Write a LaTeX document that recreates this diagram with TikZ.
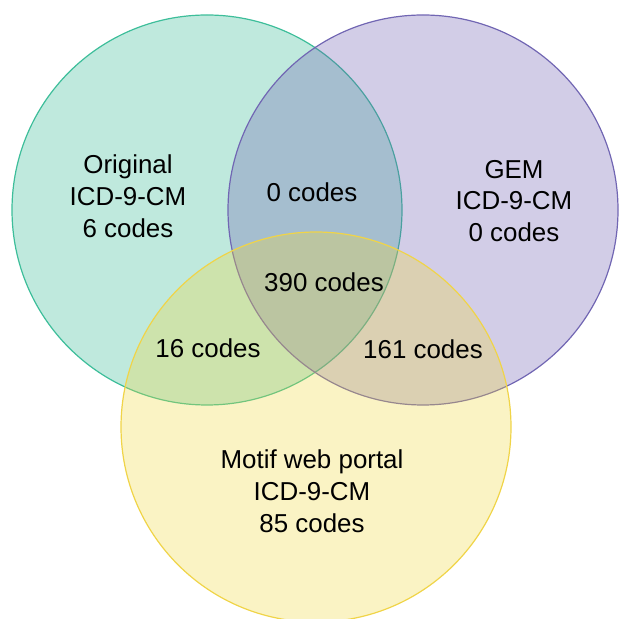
\documentclass[tikz,border=0pt]{standalone}
\usepackage{fontspec}
\setmainfont{Liberation Sans}
\definecolor{origline}{HTML}{3DBE9A}
\definecolor{origfill}{HTML}{2BB58F}
\definecolor{gemline}{HTML}{7166B3}
\definecolor{gemfill}{HTML}{6B5BAF}
\definecolor{motifline}{HTML}{F0D448}
\definecolor{motiffill}{HTML}{EFD63A}
\tikzset{
  setcircle/.style={line width=1.2bp, fill opacity=0.3},
  countlabel/.style={align=center, inner sep=0pt, font=\fontsize{26}{32}\selectfont}
}
\begin{document}
\begin{tikzpicture}[x=1bp,y=1bp]
      \useasboundingbox (0,0) rectangle (619,619);
      % the three sets
      \draw[setcircle, draw=origline, fill=origfill] (207,409) circle (195);
      \draw[setcircle, draw=gemline, fill=gemfill] (423,409) circle (195);
      \draw[setcircle, draw=motifline, fill=motiffill] (316,192) circle (195);
      % counts
      \node[countlabel] (orig) at (128,423) {Original\\ICD-9-CM\\6 codes};
      \node[countlabel] (gem) at (514,418) {GEM\\ICD-9-CM\\0 codes};
      \node[countlabel] (motif) at (312,128) {Motif web portal\\ICD-9-CM\\85 codes};
      \node[countlabel] (origgem) at (312,427) {0 codes};
      \node[countlabel] (all) at (324,337) {390 codes};
      \node[countlabel] (origmotif) at (208,271) {16 codes};
      \node[countlabel] (gemmotif) at (423,270) {161 codes};
    \end{tikzpicture}
\end{document}
